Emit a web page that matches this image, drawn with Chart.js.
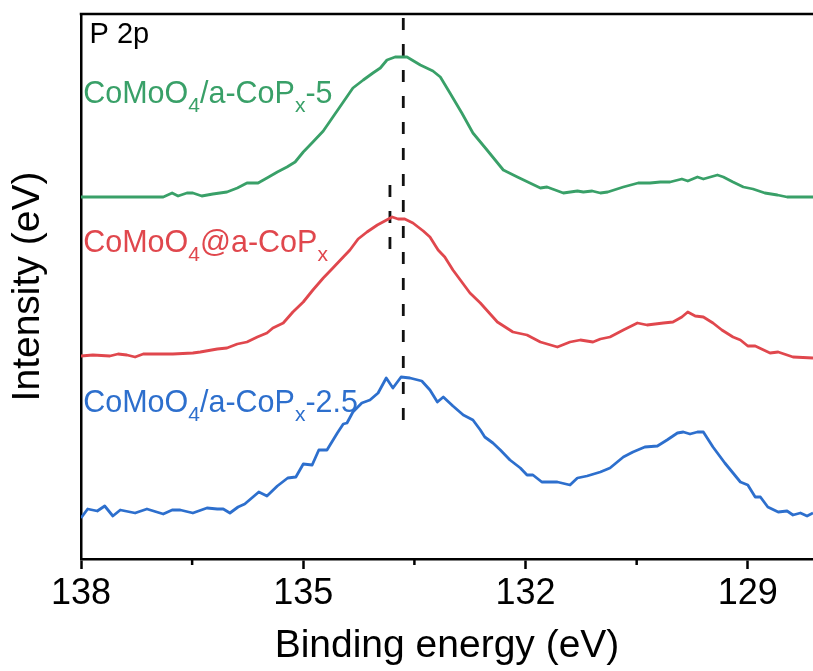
<!DOCTYPE html>
<html><head><meta charset="utf-8">
<script src="https://cdn.jsdelivr.net/npm/chart.js@4.4.0/dist/chart.umd.min.js"></script>
<style>html,body{margin:0;padding:0;background:#fff}#wrap{width:813px;height:671px;position:relative}</style>
</head><body><div id="wrap"><canvas id="c"></canvas></div>
<script>
// ---- data (binding energy eV, intensity a.u.) ----
const xTickValues = [138, 136.5, 135, 133.5, 132, 130.5, 129];
const xTickLabels = [138, 135, 132, 129];

const greenSeries = [[138.00,362],[137.74,362],[137.30,362],[136.89,362],[136.77,366],[136.69,363],[136.57,366],[136.49,366],[136.37,363],[136.22,365],[136.03,367],[135.89,371],[135.76,376],[135.61,376],[135.49,381],[135.35,387],[135.22,392],[135.11,397],[135.00,407],[134.87,417],[134.73,428],[134.60,442],[134.46,457],[134.33,471],[134.19,479],[134.06,486],[133.96,491],[133.87,499],[133.76,502],[133.65,502],[133.60,502],[133.42,494],[133.25,488],[133.15,482],[133.02,466],[132.86,446],[132.71,426],[132.52,409],[132.30,389],[132.11,382],[131.80,371],[131.71,372],[131.49,366],[131.30,368],[131.22,367],[131.10,368],[130.99,366],[130.89,367],[130.68,372],[130.48,376],[130.32,376],[130.18,377],[130.05,377],[129.89,380],[129.81,378],[129.68,382],[129.60,380],[129.41,384],[129.33,382],[129.20,377],[129.06,372],[128.93,370],[128.77,366],[128.60,364],[128.47,362],[128.12,362]];

const redSeries = [[138.00,203],[137.84,204],[137.61,203],[137.50,205],[137.38,204],[137.27,202],[137.16,205],[136.97,205],[136.76,205],[136.49,206],[136.39,207],[136.16,210],[136.03,211],[135.89,215],[135.76,217],[135.62,222],[135.49,226],[135.41,231],[135.27,236],[135.14,247],[135.00,257],[134.87,269],[134.73,281],[134.60,291],[134.46,302],[134.37,309],[134.26,320],[134.14,327],[134.00,334],[133.90,338],[133.80,342],[133.72,340],[133.63,340],[133.52,336],[133.38,328],[133.29,322],[133.18,309],[133.09,302],[132.98,289],[132.86,277],[132.75,266],[132.61,256],[132.38,237],[132.17,227],[131.98,224],[131.80,217],[131.57,212],[131.40,217],[131.26,219],[131.09,217],[130.99,220],[130.86,222],[130.68,229],[130.49,236],[130.36,234],[130.14,236],[130.01,237],[129.89,242],[129.81,247],[129.71,243],[129.60,242],[129.47,236],[129.35,229],[129.20,222],[129.10,219],[129.00,213],[128.90,213],[128.70,206],[128.59,207],[128.39,202],[128.12,201]];

const blueSeries = [[138.00,41],[137.91,50],[137.78,48],[137.68,53],[137.57,43],[137.47,49],[137.27,46],[137.11,50],[136.89,45],[136.77,49],[136.66,49],[136.49,46],[136.30,51],[136.16,50],[136.08,50],[135.99,46],[135.88,52],[135.79,55],[135.60,67],[135.49,63],[135.35,73],[135.21,81],[135.10,82],[135.00,95],[134.88,94],[134.79,109],[134.68,109],[134.54,126],[134.46,135],[134.41,136],[134.33,147],[134.21,156],[134.10,159],[133.99,166],[133.88,181],[133.79,171],[133.68,182],[133.56,181],[133.40,178],[133.29,169],[133.19,157],[133.11,162],[132.98,153],[132.84,144],[132.71,139],[132.61,129],[132.55,122],[132.44,116],[132.34,109],[132.21,99],[132.07,91],[131.98,84],[131.90,84],[131.78,77],[131.57,77],[131.40,74],[131.30,81],[131.17,83],[130.99,87],[130.86,91],[130.68,102],[130.55,107],[130.39,112],[130.22,113],[130.09,119],[129.95,126],[129.87,127],[129.78,125],[129.68,127],[129.60,127],[129.47,112],[129.31,96],[129.10,77],[129.00,74],[128.90,62],[128.83,62],[128.73,52],[128.59,47],[128.47,48],[128.39,44],[128.29,46],[128.20,43],[128.12,46]];

const peakLineLong = [[133.65,541],[133.65,137]];
const peakLineShort = [[133.83,374],[133.83,309]];

// ---- styles ----
const FONT = '"Liberation Sans", Arial, Helvetica, sans-serif';
const GREEN = '#39a068', RED = '#e0474d', BLUE = '#2d6fcd';

const toPts = arr => arr.map(p => ({x: p[0], y: p[1]}));

const seriesLabels = [
  {parts:[['CoMoO',0],['4',1],['/a-CoP',0],['x',1],['-5',0]], x:137.97, y:456, color:GREEN},
  {parts:[['CoMoO',0],['4',1],['@a-CoP',0],['x',1]], x:137.97, y:307, color:RED},
  {parts:[['CoMoO',0],['4',1],['/a-CoP',0],['x',1],['-2.5',0]], x:137.97, y:147, color:BLUE},
  {parts:[['P 2p',0]], x:137.885, y:516, color:'#000', size:29}
];

const decoPlugin = {
  id: 'deco',
  afterDraw(chart) {
    const ctx = chart.ctx, xs = chart.scales.x, ys = chart.scales.y, ca = chart.chartArea;
    ctx.save();
    // top frame line
    ctx.strokeStyle = '#000'; ctx.lineWidth = 2.5;
    ctx.beginPath(); ctx.moveTo(ca.left - 1.25, ca.top); ctx.lineTo(ca.right, ca.top); ctx.stroke();
    // minor ticks
    xTickValues.filter(v => !xTickLabels.includes(v)).forEach(v => {
      const px = xs.getPixelForValue(v);
      ctx.beginPath(); ctx.moveTo(px, ca.bottom); ctx.lineTo(px, ca.bottom + 6); ctx.stroke();
    });
    // labels
    ctx.textBaseline = 'alphabetic'; ctx.textAlign = 'left';
    seriesLabels.forEach(l => {
      let px = xs.getPixelForValue(l.x);
      const py = ys.getPixelForValue(l.y);
      const main = l.size || 30.5;
      ctx.fillStyle = l.color;
      l.parts.forEach(([t, sub]) => {
        ctx.font = (sub ? 21 : main) + 'px ' + FONT;
        ctx.fillText(t, px, py + (sub ? 9 : 0));
        px += ctx.measureText(t).width;
      });
    });
    ctx.restore();
  }
};

const lineDs = (data, color) => ({
  data: toPts(data), showLine: true, borderColor: color, borderWidth: 2.8,
  pointRadius: 0, tension: 0, fill: false, borderJoinStyle: 'round'
});
const dashDs = data => ({
  data: toPts(data), showLine: true, borderColor: '#111', borderWidth: 2.8,
  borderDash: [12, 14], borderCapStyle: 'butt', pointRadius: 0, fill: false
});

new Chart(document.getElementById('c'), {
  type: 'scatter',
  data: { datasets: [
    lineDs(greenSeries, GREEN), lineDs(redSeries, RED), lineDs(blueSeries, BLUE),
    dashDs(peakLineLong), dashDs(peakLineShort)
  ]},
  options: {
    responsive: true, maintainAspectRatio: false, animation: false,
    layout: { padding: { top: 14, right: 0, left: 0, bottom: 0 } },
    plugins: { legend: { display: false }, tooltip: { enabled: false } },
    scales: {
      x: {
        type: 'linear', reverse: true, min: 128.12, max: 138,
        afterBuildTicks: ax => { ax.ticks = xTickValues.map(v => ({value: v})); },
        afterFit: ax => { ax.height = 112; },
        ticks: {
          autoSkip: false, maxRotation: 0, padding: 3, color: '#000',
          font: { family: FONT, size: 36 },
          callback: v => xTickLabels.includes(v) ? String(v) : ''
        },
        grid: {
          display: true, drawOnChartArea: false, drawTicks: true, tickLength: 10, tickWidth: 2.5,
          tickColor: c => (c.tick && xTickLabels.includes(c.tick.value)) ? '#000' : 'rgba(0,0,0,0)'
        },
        border: { display: true, color: '#000', width: 2.5 },
        title: { display: true, text: 'Binding energy (eV)', color: '#000',
                 font: { family: FONT, size: 39 }, padding: { top: 0, bottom: 1 } }
      },
      y: {
        type: 'linear', min: 0, max: 545,
        afterFit: ax => { ax.width = 81; },
        ticks: { display: false },
        grid: { display: false },
        border: { display: true, color: '#000', width: 2.5 },
        title: { display: true, text: 'Intensity (eV)', color: '#000',
                 font: { family: FONT, size: 39 }, padding: { top: 5, bottom: 0 } }
      }
    }
  },
  plugins: [decoPlugin]
});
</script></body></html>
